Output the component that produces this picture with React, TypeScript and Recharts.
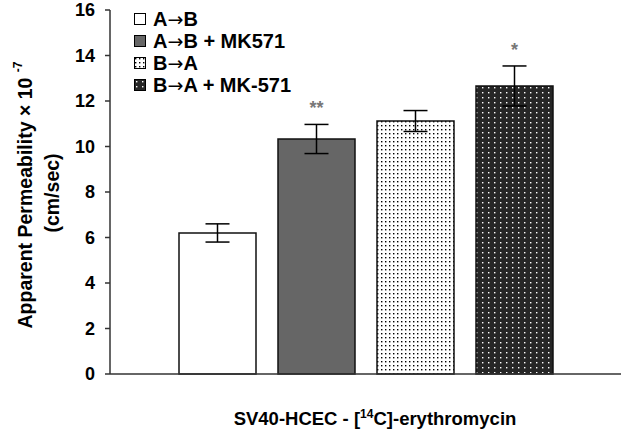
import React from 'react';
import { BarChart, Bar, XAxis, YAxis, ErrorBar, Legend, LabelList } from 'recharts';

const categories = ['SV40-HCEC - [14C]-erythromycin'];
const seriesNames = ['A→B', 'A→B + MK571', 'B→A', 'B→A + MK-571'];
const values = [6.2, 10.33, 11.12, 12.66];
const errors = [0.4, 0.64, 0.46, 0.88];
const significance = ['', '**', '', '*'];
const yTicks = [0, 2, 4, 6, 8, 10, 12, 14, 16];

const fills = ['#ffffff', '#666666', 'url(#dotsLight)', 'url(#dotsDark)'];
const FONT = '"Liberation Sans", Arial, sans-serif';

const data = categories.map((c) => {
  const row: any = { name: c };
  seriesNames.forEach((_, i) => {
    row['v' + i] = values[i];
    row['e' + i] = errors[i];
  });
  return row;
});

const makeStar = (i: number) => (props: any) => {
  const { x, y, width, height, value } = props;
  if (!significance[i]) return null;
  const pxPerUnit = Number(height) / Number(value);
  const errTop = Number(y) - errors[i] * pxPerUnit;
  return (
    <text
      x={Number(x) + Number(width) / 2}
      y={errTop - 10}
      textAnchor="middle"
      fill="#777"
      fontSize={18}
      fontWeight="bold"
      fontFamily={FONT}
    >
      {significance[i]}
    </text>
  );
};

const renderName = (name: string) => {
  const parts = name.split('→');
  return parts.map((p, k) => (
    <React.Fragment key={k}>
      {k > 0 && <span style={{ fontFamily: '"DejaVu Sans", sans-serif', fontWeight: 'normal', fontSize: 19 }}>→</span>}
      {p}
    </React.Fragment>
  ));
};

const renderLegend = (props: any) => {
  const payload = props.payload || [];
  return (
    <div style={{ fontFamily: FONT }}>
      {payload.map((entry: any, idx: number) => (
        <div key={idx} style={{ display: 'flex', alignItems: 'center', height: 22 }}>
          <svg width={12} height={12} style={{ marginRight: 7 }}>
            <rect x={0.5} y={0.5} width={11} height={11} fill={fills[idx]} stroke="#000" strokeWidth={1} />
          </svg>
          <span style={{ fontWeight: 'bold', fontSize: 20, color: '#000', whiteSpace: 'nowrap' }}>
            {renderName(String(entry.value))}
          </span>
        </div>
      ))}
    </div>
  );
};

const yLabel = () => (
  <g fontFamily={FONT} fontWeight="bold" fill="#000">
    <text x={25} y={195} transform="rotate(-90, 25, 195)" textAnchor="middle" dominantBaseline="central" fontSize={19.5}>
      Apparent Permeability × 10{' '}
      <tspan dy={-7} fontSize={12}>-7</tspan>
    </text>
    <text x={52} y={193} transform="rotate(-90, 52, 193)" textAnchor="middle" dominantBaseline="central" fontSize={19.5}>
      (cm/sec)
    </text>
  </g>
);

const xLabel = () => (
  <text x={375} y={425} textAnchor="middle" fontFamily={FONT} fontWeight="bold" fontSize={18.5} fill="#000">
    SV40-HCEC - [<tspan dy={-7} fontSize={12}>14</tspan>
    <tspan dy={7}>C]-erythromycin</tspan>
  </text>
);

export default function App() {
  return (
    <div style={{ position: 'absolute', left: 0, top: 0, width: 630, height: 438, background: '#fff', fontFamily: FONT }}>
      <BarChart
        width={630}
        height={438}
        data={data}
        margin={{ top: 10, right: 9, bottom: 0, left: 50 }}
        barSize={77}
        barGap={22}
      >
        <defs>
          <pattern id="dotsLight" width="4" height="4" patternUnits="userSpaceOnUse">
            <rect width="4" height="4" fill="#ffffff" />
            <rect x="1" y="1" width="1.4" height="1.4" fill="#000000" />
          </pattern>
          <pattern id="dotsDark" width="6" height="5" patternUnits="userSpaceOnUse">
            <rect width="6" height="5" fill="#262626" />
            <rect x="2" y="2" width="1.4" height="1.4" fill="#ffffff" />
          </pattern>
        </defs>
        <XAxis
          dataKey="name"
          tick={false}
          tickLine={false}
          height={64}
          axisLine={{ stroke: '#333', strokeWidth: 1.5 }}
          label={{ content: xLabel }}
        />
        <YAxis
          domain={[0, 16]}
          ticks={yTicks}
          width={60}
          tickSize={5}
          tickMargin={10}
          interval={0}
          axisLine={{ stroke: '#333', strokeWidth: 1.5 }}
          tickLine={{ stroke: '#333', strokeWidth: 1.5 }}
          tick={{ fill: '#000', fontSize: 18, fontWeight: 'bold', fontFamily: FONT }}
          label={{ content: yLabel }}
        />
        <Legend
          layout="vertical"
          verticalAlign="middle"
          align="center"
          wrapperStyle={{ left: 134, top: 8, width: 'auto' }}
          content={renderLegend}
        />
        {seriesNames.map((name, i) => (
          <Bar
            key={name}
            dataKey={'v' + i}
            name={name}
            fill={fills[i]}
            stroke="#111"
            strokeWidth={1.5}
            isAnimationActive={false}
          >
            <ErrorBar dataKey={'e' + i} width={12} stroke="#000" strokeWidth={1.5} isAnimationActive={false} />
            <LabelList dataKey={'v' + i} content={makeStar(i)} />
          </Bar>
        ))}
      </BarChart>
    </div>
  );
}
